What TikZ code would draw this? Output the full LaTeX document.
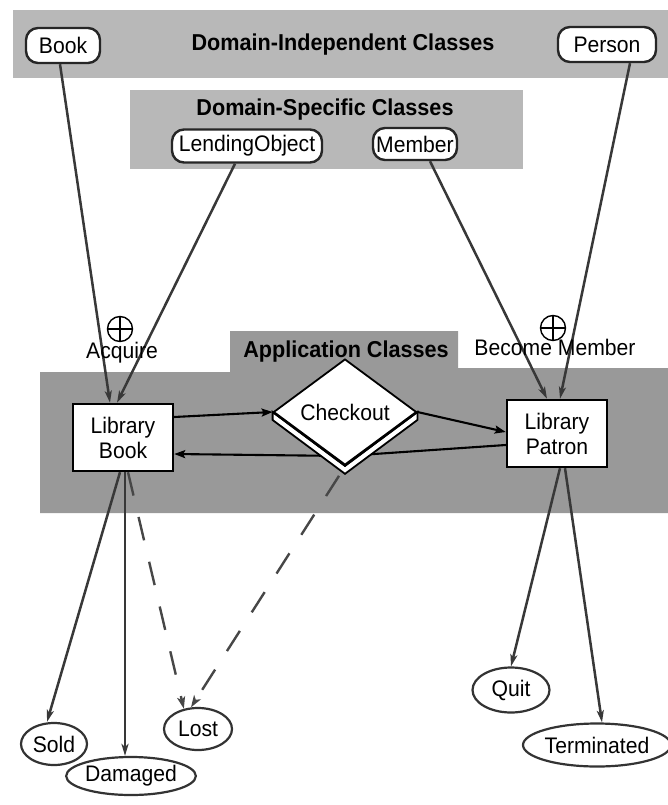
\documentclass[tikz,border=0pt]{standalone}
\usepackage{fontspec}
\setmainfont{Liberation Sans}[FakeStretch=0.94]
\usetikzlibrary{shapes.geometric,arrows.meta}
\definecolor{bandlight}{gray}{0.72}
\definecolor{banddark}{gray}{0.6}
\begin{document}
\begin{tikzpicture}[x=1pt,y=-1pt,
  every node/.style={font=\fontsize{22.5}{25}\selectfont},
  bandtitle/.style={font=\fontsize{23}{26}\selectfont\bfseries},
  classbox/.style={draw=black!85, line width=2.4pt, rounded corners=12pt, fill=white, inner sep=0pt},
  appbox/.style={draw=black, line width=2.4pt, fill=white, inner sep=0pt,
    minimum width=100pt, minimum height=67pt, align=center},
  stateoval/.style={ellipse, draw=black!80, line width=2.2pt, fill=white, inner sep=0pt},
  conn/.style={draw=black!78, line width=2.5pt, -{Stealth[length=12pt,width=7pt,inset=3pt]}},
  flow/.style={draw=black, line width=2.1pt, -{Stealth[length=11pt,width=8pt,inset=2pt]}},
  lostflow/.style={draw=black!72, line width=2.4pt, dash pattern=on 24pt off 22pt,
    -{Stealth[length=12pt,width=8pt,inset=3pt]}},
  plusmark/.style={circle, draw, line width=1.4pt, minimum size=25pt, inner sep=0pt},
  relshape/.style={diamond, draw=black, line width=1.8pt, fill=white, inner sep=0pt,
    minimum width=143pt, minimum height=87pt}
]
\useasboundingbox (0,0) rectangle (668,805);

% shaded layers
\fill[bandlight] (13,10) rectangle (668,78);
\fill[bandlight] (130,90) rectangle (523,169);
\fill[banddark] (40,372) -- (230,372) -- (230,331) -- (458,331) -- (458,368)
  -- (668,368) -- (668,513) -- (40,513) -- cycle;

% layer titles
\node[bandtitle] (dititle) at (343,45) {Domain-Independent Classes};
\node[bandtitle] (dstitle) at (325,110) {Domain-Specific Classes};
\node[bandtitle] (apptitle) at (346,352) {Application Classes};

% generic classes
\node[classbox, minimum width=74pt, minimum height=35pt] (book) at (63,45.5) {Book};
\node[classbox, minimum width=98pt, minimum height=35pt] (person) at (607,44.5) {Person};
\node[classbox, minimum width=150pt, minimum height=33pt] (lendobj) at (247,146) {LendingObject};
\node[classbox, minimum width=84pt, minimum height=32pt] (member) at (415,144) {Member};

% application classes
\node[appbox] (libbook) at (123,437.5) {Library\\Book};
\node[appbox] (libpatron) at (557,433.5) {Library\\Patron};

% return path, partly hidden by the relationship
\coordinate (retpt) at (345,456);
\draw[flow] ([yshift=-11.5pt]libpatron.west) -- (retpt) -- ([yshift=-16.5pt]libbook.east);

% relationship with its raised base
\node[relshape] (checkout) at (345,412) {Checkout};
\draw[line width=1.8pt, fill=white, line join=miter]
  (checkout.west) -- ([yshift=-8pt]checkout.west) -- ([yshift=-8pt]checkout.south)
  -- ([yshift=-8pt]checkout.east) -- (checkout.east) -- (checkout.south) -- cycle;
\draw[line width=1.8pt] (checkout.west) -- (checkout.south) -- (checkout.east);
\coordinate (basefoot) at ([yshift=-8pt]checkout.south);

\draw[flow] ([yshift=20.5pt]libbook.east) -- (checkout.west);
\draw[flow] (checkout.east) -- ([yshift=1.5pt]libpatron.west);

% inheritance
\draw[conn] ([xshift=-3pt]book.south) -- ([xshift=-13pt]libbook.north);
\draw[conn] ([xshift=-12pt]lendobj.south) -- ([xshift=-6pt]libbook.north);
\draw[conn] ([xshift=15pt]member.south) -- ([xshift=-10pt]libpatron.north);
\draw[conn] ([xshift=23pt]person.south) -- ([xshift=3pt]libpatron.north);

% creation events
\node[plusmark] (acqplus) at (120,329) {};
\draw[line width=1.4pt] (acqplus.north) -- (acqplus.south) (acqplus.west) -- (acqplus.east);
\node (acquire) at (122,353) {Acquire};
\node[plusmark] (memplus) at (553,328) {};
\draw[line width=1.4pt] (memplus.north) -- (memplus.south) (memplus.west) -- (memplus.east);
\node (becomemember) at (555,347) {Become Member};

% end states
\node[stateoval, minimum width=66pt, minimum height=42pt] (sold) at (54,744) {Sold};
\node[stateoval, minimum width=122pt, minimum height=38pt] (damaged) at (131,776) {Damaged};
\node[stateoval, minimum width=68pt, minimum height=42pt] (lost) at (198,729) {Lost};
\node[stateoval, minimum width=77pt, minimum height=45pt] (quit) at (511,690) {Quit};
\node[stateoval, minimum width=139pt, minimum height=43pt] (terminated) at (597,745) {Terminated};

\draw[conn] ([xshift=-3pt]libbook.south) -- ([xshift=-7pt]sold.north);
\draw[conn] ([xshift=2pt]libbook.south) -- ([xshift=-6pt]damaged.north);
\draw[lostflow] ([xshift=5pt]libbook.south) -- (lost.125);
\draw[lostflow] ([xshift=-6pt,yshift=-2pt]basefoot) -- (lost.108);
\draw[conn] ([xshift=3pt]libpatron.south) -- (quit.north);
\draw[conn] ([xshift=8pt]libpatron.south) -- ([xshift=5pt]terminated.north);
\end{tikzpicture}
\end{document}
